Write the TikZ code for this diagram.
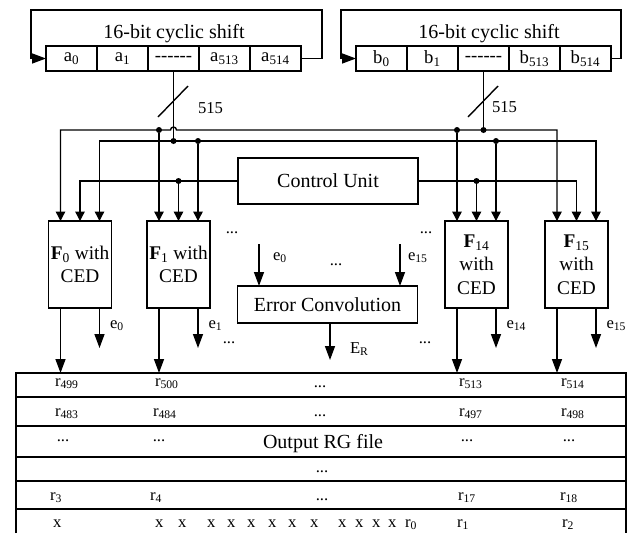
\documentclass[tikz,border=0pt]{standalone}
\usepackage{fontspec}
\setmainfont{Liberation Serif}
\usetikzlibrary{arrows.meta,positioning,calc}

\begin{document}
\begin{tikzpicture}[
                x=0.75pt, y=-0.75pt,
                line width=1.05pt,
                every node/.style={inner sep=0pt, outer sep=0pt},
                cell/.style={draw, minimum width=38.25pt, minimum height=18.75pt, font=\fontsize{14}{16}\selectfont},
                fbox/.style={draw, align=center, minimum width=47.25pt, minimum height=65.25pt, font=\fontsize{14.5}{17.5}\selectfont},
                unit/.style={draw, minimum width=135pt, font=\fontsize{15}{18}\selectfont},
                big/.style={font=\fontsize{15}{18}\selectfont},
                lbl/.style={font=\fontsize{12.5}{14}\selectfont},
                arr/.style={-{Triangle[length=7pt,width=7pt]}},
                dblarr/.style={{Triangle[length=7pt,width=7pt]}-{Triangle[length=7pt,width=7pt]}},
                bigarr/.style={-{Triangle[length=10.5pt,width=7.5pt]}},
                dot/.style={circle, fill, minimum size=4.5pt}
            ]
            \useasboundingbox (0,0) rectangle (632,533);

            % shift registers
            \foreach \r/\x in {a/71.5, b/381.5} {
                \node[cell] (\r0) at (\x,58.5) {\r\textsubscript{0}};
                \node[cell, right=0pt of \r0] (\r1) {\r\textsubscript{1}};
                \node[cell, right=0pt of \r1] (\r2) {-{}-{}-{}-{}-{}-};
                \node[cell, right=0pt of \r2] (\r3) {\r\textsubscript{513}};
                \node[cell, right=0pt of \r3] (\r4) {\r\textsubscript{514}};
            }
            \node[big, anchor=base] (sha) at (174,38) {16-bit cyclic shift};
            \node[big, anchor=base] (shb) at (489,38) {16-bit cyclic shift};
            \draw[bigarr] (a4.east) -| (322,10) -| (31,58.5) -- (a0.west);
            \draw[bigarr] (b4.east) -| (621,10) -| (341,58.5) -- (b0.west);

            % processing units
            \node[fbox] (f0) at (80,264.5) {\textbf{F}\textsubscript{0} with\\CED};
            \node[fbox] (f1) at (178.5,264.5) {\textbf{F}\textsubscript{1} with\\CED};
            \node[fbox] (f14) at (476.5,264.5) {\textbf{F}\textsubscript{14}\\with\\CED};
            \node[fbox] (f15) at (576.5,264.5) {\textbf{F}\textsubscript{15}\\with\\CED};
            \node[unit, minimum height=34.5pt] (cu) at (328,181) {Control Unit};
            \node[unit, minimum height=27.75pt] (ec) at (327.5,304.5) {Error Convolution};

            % buses
            \coordinate (bus1) at (0,130);
            \coordinate (bus2) at (0,141);
            \draw ($(a2.south)+(-15.5,46)$) -- ++(30,-31);
            \node[lbl, anchor=base west] (wa) at (198,113) {515};
            \draw ($(b2.south)+(-15.5,46)$) -- ++(30,-31);
            \node[lbl, anchor=base west] (wb) at (492,112) {515};
            \draw[dblarr] ($(f0.north)+(-19.5,0)$) |- ($(a2.south |- bus1)+(-3,0)$)
                arc (180:360:3) -| ($(f15.north)+(-19.5,0)$);
            \draw[dblarr] ($(f0.north)+(19.5,0)$) |- (a2.south |- bus2) -| ($(f15.north)+(19.5,0)$);
            \draw (a2.south) -- (a2.south |- bus2);
            \node[dot] (ja) at (a2.south |- bus2) {};
            \draw (b2.south) -- (b2.south |- bus1);
            \node[dot] (jb) at (b2.south |- bus1) {};
            \draw[arr] (cu.west) -| (f0.north);
            \draw[arr] (cu.east) -| (f15.north);
            \foreach \f in {f1,f14} {
                \node[dot] (l1\f) at ($(\f.north)+(-19.5,-91)$) {};
                \node[dot] (l2\f) at ($(\f.north)+(19.5,-80)$) {};
                \node[dot] (c\f) at (\f.north |- cu.west) {};
                \draw[arr] (l1\f) -- ($(\f.north)+(-19.5,0)$);
                \draw[arr] (l2\f) -- ($(\f.north)+(19.5,0)$);
                \draw[arr] (c\f) -- (\f.north);
            }

            % output register file
            \node[minimum width=457.5pt, minimum height=120pt] (rg) at (321,453) {};
            \draw (rg.south west) |- (rg.north east) -- (rg.south east);
            \foreach \y in {397,426,457,481,509}
                \draw (16,\y) -- (626,\y);

            % outputs and errors
            \foreach \f/\i in {f0/0, f1/1, f14/14, f15/15} {
                \coordinate (o\f) at ($(\f.south)+(-19.5,0)$);
                \draw[bigarr] (o\f) -- (o\f |- rg.north);
                \draw[bigarr] ($(\f.south)+(19.5,0)$) -- ++(0,40) coordinate (e\f);
                \node[lbl, anchor=base west] (le\f) at ($(\f.south)+(30,20)$) {e\textsubscript{\i}};
            }
            \coordinate (ein0) at ($(ec.north)+(-68.5,-42)$);
            \coordinate (ein15) at ($(ec.north)+(72.5,-42)$);
            \draw[bigarr] (ein0) -- (ein0 |- ec.north);
            \draw[bigarr] (ein15) -- (ein15 |- ec.north);
            \node[lbl, anchor=base west] (lein0) at (273,260) {e\textsubscript{0}};
            \node[lbl, anchor=base west] (lein15) at (408,260) {e\textsubscript{15}};
            \draw[bigarr] ($(ec.south)+(2.5,0)$) -- ++(0,37) coordinate (er);
            \node[lbl, anchor=base west] (ler) at (350,353) {E\textsubscript{R}};

            % ellipses
            \foreach \x/\y in {232/233, 426/233, 336/265, 229/343, 425/343}
                \node[lbl] at (\x,\y) {...};

            % register file contents
            \foreach \x/\t in {55/r\textsubscript{499}, 155/r\textsubscript{500}, 459/r\textsubscript{513}, 561/r\textsubscript{514}}
                \node[lbl, anchor=base west] at (\x,386) {\t};
            \foreach \x/\t in {55/r\textsubscript{483}, 153/r\textsubscript{484}, 459/r\textsubscript{497}, 561/r\textsubscript{498}}
                \node[lbl, anchor=base west] at (\x,416) {\t};
            \foreach \x/\t in {50/r\textsubscript{3}, 150/r\textsubscript{4}, 458/r\textsubscript{17}, 560/r\textsubscript{18}}
                \node[lbl, anchor=base west] at (\x,500) {\t};
            \foreach \x/\t in {53/x, 155/x, 178/x, 207/x, 227/x, 247/x, 268/x, 288/x, 310/x, 338/x, 355/x, 372/x, 388/x, 405/r\textsubscript{0}, 457/r\textsubscript{1}, 562/r\textsubscript{2}}
                \node[lbl, anchor=base west] at (\x,527) {\t};
            \foreach \x/\y in {320/387, 320/416, 63/441, 159/441, 467/441, 569/441, 322/472, 322/500}
                \node[lbl, anchor=base] at (\x,\y) {...};
            \node[big, anchor=base west] (rgname) at (263,448) {Output RG file};

        \end{tikzpicture}
\end{document}
